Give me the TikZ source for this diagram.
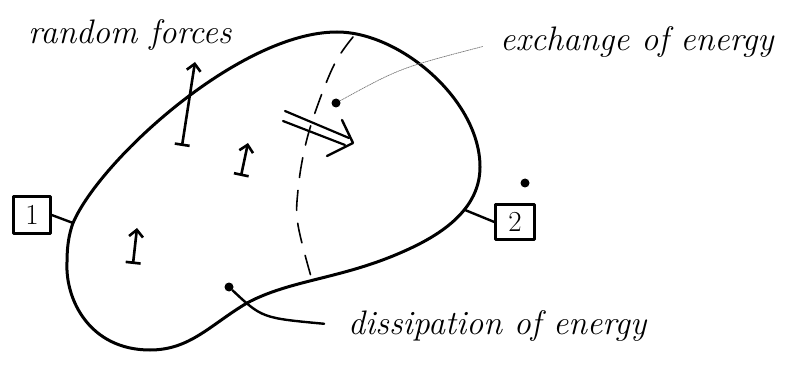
\documentclass[tikz,border=0pt]{standalone}
\usepackage{fontspec}
\usetikzlibrary{arrows.meta,calc}
\begin{document}
\begin{tikzpicture}[x=1pt,y=-1pt, line cap=round, line join=round]
\useasboundingbox (0,0) rectangle (802,371);
\tikzset{
 blob/.style={line width=3pt},
 numbox/.style={draw, line width=2.4pt, inner sep=0pt, font=\fontsize{29}{30}\selectfont},
 lbl/.style={font=\fontsize{34}{36}\selectfont\itshape, inner sep=0pt},
 forcearrow/.style={line width=2.6pt, {Bar[width=15pt,line width=2.6pt]}-{Straight Barb[length=7pt,width=14pt,line width=2.6pt]}},
 dotmark/.style={circle, fill, inner sep=0pt, minimum size=9pt},
 connector/.style={line width=2.4pt},
 leader/.style={gray, densely dotted, line width=0.8pt},
}
% outline of the system
\draw[blob] (73,223) .. controls (100,160) and (240,32) .. (337,32)
  .. controls (400,32) and (480,100) .. (480,167)
  .. controls (480,215) and (430,240) .. (400,253)
  .. controls (340,279) and (290,280) .. (247,303)
  .. controls (210,325) and (190,350) .. (150,350)
  .. controls (90,350) and (65,300) .. (67,262)
  .. controls (67,246) and (69,234) .. cycle;
% dashed interface
\draw[line width=1.6pt, dash pattern=on 20pt off 13pt] plot[smooth, tension=0.6] coordinates {(353,37) (335,63) (317,107) (305,147) (298,190) (298,225) (312,280)};
% boxes
\coordinate (c1) at (73,223);
\coordinate (c2) at (465,210);
\node[numbox, minimum width=37pt, minimum height=37pt] (b1) at (32,215) {1};
\node[numbox, minimum width=39pt, minimum height=35pt] (b2) at (515,222) {2};
\draw[connector] (b1.east) -- (c1);
\draw[connector] (b2.west) -- (c2);
% random forces arrows
\draw[forcearrow] (182,146) -- (195,62);
\draw[forcearrow] (241,176) -- (248,143);
\draw[forcearrow] (133,264) -- (137,228);
% exchange arrow (double shaft, open head)
\draw[line width=2.2pt] (285,111) -- (349,138);
\draw[line width=2.2pt] (283,121) -- (345,145);
\draw[line width=2.4pt] (342,120) -- (353,143) -- (327,156);
% labels
\node[lbl, anchor=west] (rf) at (28,35) {random forces};
\node[lbl, anchor=west] (ex) at (500,42) {exchange of energy};
\node[lbl, anchor=west] (dis) at (348,326) {dissipation of energy};
% dots
\node[dotmark] (exd) at (336,103) {};
\node[dotmark] (iso) at (525,183) {};
\node[dotmark] (disd) at (229,287) {};
\draw[leader, shorten >=18pt] (exd) .. controls (400,68) .. (ex.west);
\draw[connector, shorten >=24pt] (disd) .. controls (262,318) .. (dis.west);
\end{tikzpicture}
\end{document}
